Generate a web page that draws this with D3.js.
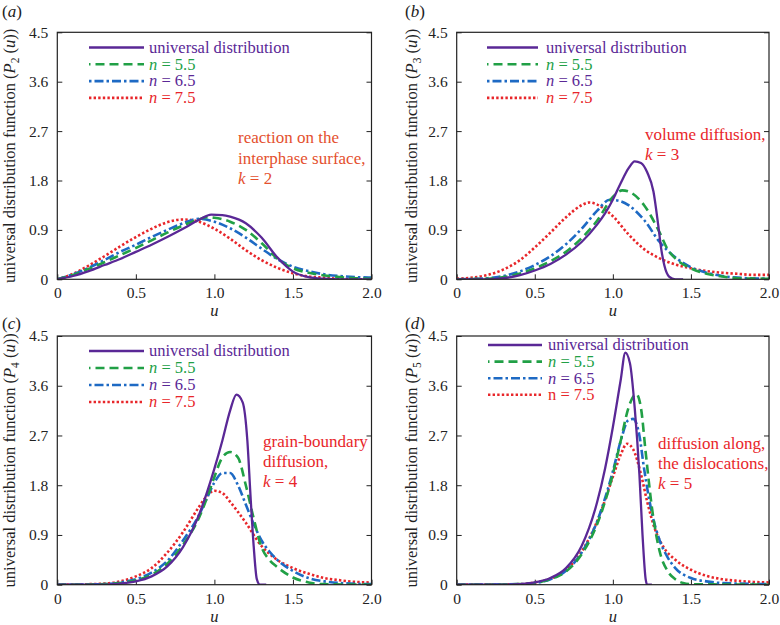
<!DOCTYPE html>
<html><head><meta charset="utf-8">
<script src="https://cdn.jsdelivr.net/npm/d3@7"></script>
<style>body{margin:0;background:#fff}svg{display:block}svg text{font-family:"Liberation Serif","DejaVu Serif","Noto Serif",serif !important}</style>
</head><body>
<svg id="c" width="780" height="625"></svg>
<script>
// ---------- data ----------
const xTicks = [0, 0.5, 1.0, 1.5, 2.0];
const xTickLabels = ["0", "0.5", "1.0", "1.5", "2.0"];
const yTicks = [0, 0.9, 1.8, 2.7, 3.6, 4.5];
const yTickLabels = ["0", "0.9", "1.8", "2.7", "3.6", "4.5"];
const seriesNames = ["universal distribution", "n = 5.5", "n = 6.5", "n = 7.5"];
const panelLetters = ["a", "b", "c", "d"];
const panelK = [2, 3, 4, 5];
const panelNotes = [
  ["reaction on the", "interphase surface,"],
  ["volume diffusion,"],
  ["grain-boundary", "diffusion,"],
  ["diffusion along,", "the dislocations,"]
];

// panel (a) k=2
const aUniversal = [[0,0],[0.1,0.06],[0.2,0.15],[0.3,0.26],[0.4,0.37],[0.5,0.5],[0.6,0.63],[0.7,0.77],[0.8,0.92],[0.9,1.08],[0.98,1.18],[1.05,1.17],[1.1,1.14],[1.2,1.02],[1.3,0.76],[1.4,0.4],[1.5,0.14],[1.6,0.04],[1.7,0.01],[1.8,0],[2.0,0]];
const aN55 = [[0,0],[0.1,0.08],[0.2,0.19],[0.3,0.31],[0.4,0.44],[0.5,0.57],[0.6,0.71],[0.7,0.85],[0.8,0.98],[0.9,1.09],[0.95,1.13],[1.0,1.12],[1.1,1.05],[1.2,0.9],[1.3,0.66],[1.4,0.38],[1.5,0.2],[1.6,0.12],[1.7,0.07],[1.8,0.04],[1.9,0.02],[2.0,0.01]];
const aN65 = [[0,0],[0.1,0.09],[0.2,0.21],[0.3,0.35],[0.4,0.5],[0.5,0.63],[0.6,0.77],[0.7,0.9],[0.8,1.02],[0.9,1.1],[1.0,1.05],[1.1,0.93],[1.2,0.76],[1.3,0.56],[1.4,0.37],[1.5,0.23],[1.6,0.15],[1.7,0.09],[1.8,0.06],[1.9,0.04],[2.0,0.03]];
const aN75 = [[0,0],[0.1,0.1],[0.2,0.25],[0.3,0.42],[0.4,0.6],[0.5,0.77],[0.6,0.92],[0.7,1.04],[0.8,1.09],[0.9,1.05],[1.0,0.92],[1.1,0.74],[1.2,0.53],[1.3,0.35],[1.4,0.21],[1.5,0.11],[1.6,0.05],[1.7,0.03],[1.8,0.01],[2.0,0]];

// panel (b) k=3
const bUniversal = [[0,0],[0.2,0],[0.3,0.02],[0.4,0.07],[0.5,0.16],[0.6,0.28],[0.7,0.45],[0.8,0.68],[0.9,1.0],[0.95,1.2],[1.0,1.45],[1.05,1.75],[1.1,2.02],[1.14,2.15],[1.18,2.12],[1.22,1.95],[1.26,1.6],[1.29,1.0],[1.31,0.55],[1.33,0.25],[1.36,0.05],[1.4,0],[1.45,0]];
const bN55 = [[0,0],[0.2,0.01],[0.3,0.04],[0.4,0.1],[0.5,0.2],[0.6,0.33],[0.7,0.5],[0.8,0.75],[0.9,1.07],[1.0,1.5],[1.06,1.62],[1.1,1.6],[1.2,1.35],[1.3,0.85],[1.35,0.55],[1.4,0.38],[1.5,0.2],[1.6,0.1],[1.7,0.05],[1.8,0.02],[2.0,0.01]];
const bN65 = [[0,0],[0.2,0.02],[0.3,0.06],[0.4,0.14],[0.5,0.26],[0.6,0.42],[0.7,0.64],[0.8,0.92],[0.9,1.25],[0.98,1.45],[1.05,1.42],[1.1,1.35],[1.2,1.08],[1.3,0.68],[1.4,0.4],[1.5,0.22],[1.6,0.12],[1.7,0.06],[1.8,0.03],[2.0,0.01]];
const bN75 = [[0,0.01],[0.1,0.03],[0.2,0.08],[0.3,0.18],[0.4,0.34],[0.5,0.58],[0.6,0.85],[0.7,1.13],[0.8,1.35],[0.85,1.4],[0.9,1.36],[1.0,1.15],[1.1,0.82],[1.2,0.55],[1.3,0.38],[1.4,0.27],[1.5,0.2],[1.6,0.15],[1.7,0.12],[1.8,0.1],[1.9,0.08],[2.0,0.08]];

// panel (c) k=4
const cUniversal = [[0,0],[0.3,0],[0.4,0.02],[0.5,0.06],[0.6,0.15],[0.7,0.33],[0.8,0.68],[0.9,1.25],[1.0,2.1],[1.05,2.6],[1.1,3.15],[1.14,3.44],[1.18,3.3],[1.21,2.6],[1.23,1.6],[1.25,0.7],[1.27,0.1],[1.29,0],[1.33,0]];
const cN55 = [[0,0],[0.3,0.01],[0.4,0.03],[0.5,0.08],[0.6,0.18],[0.7,0.38],[0.8,0.72],[0.9,1.2],[0.95,1.55],[1.0,1.95],[1.05,2.3],[1.1,2.4],[1.15,2.3],[1.2,1.8],[1.25,1.2],[1.3,0.68],[1.35,0.45],[1.4,0.32],[1.5,0.13],[1.6,0.04],[1.7,0.01],[2.0,0]];
const cN65 = [[0,0],[0.3,0.01],[0.4,0.04],[0.5,0.1],[0.6,0.22],[0.7,0.43],[0.8,0.8],[0.9,1.25],[0.95,1.55],[1.0,1.85],[1.05,2.02],[1.1,2.02],[1.15,1.8],[1.2,1.45],[1.25,1.1],[1.3,0.8],[1.35,0.6],[1.4,0.45],[1.5,0.25],[1.6,0.12],[1.7,0.06],[1.8,0.03],[2.0,0.01]];
const cN75 = [[0,0],[0.2,0.01],[0.3,0.02],[0.4,0.06],[0.5,0.15],[0.6,0.3],[0.7,0.58],[0.8,0.95],[0.9,1.4],[0.95,1.6],[1.0,1.7],[1.05,1.66],[1.1,1.5],[1.2,1.12],[1.3,0.7],[1.4,0.45],[1.5,0.3],[1.6,0.2],[1.7,0.12],[1.8,0.08],[1.9,0.05],[2.0,0.04]];

// panel (d) k=5
const dUniversal = [[0,0],[0.3,0],[0.4,0.01],[0.5,0.04],[0.6,0.12],[0.7,0.3],[0.8,0.7],[0.9,1.5],[0.95,2.1],[1.0,2.85],[1.05,3.7],[1.08,4.2],[1.11,4.0],[1.14,3.2],[1.17,2.0],[1.19,0.9],[1.21,0.1],[1.22,0],[1.25,0]];
const dN55 = [[0,0],[0.4,0.01],[0.5,0.03],[0.6,0.1],[0.7,0.24],[0.8,0.55],[0.9,1.1],[1.0,2.0],[1.05,2.6],[1.1,3.2],[1.15,3.45],[1.18,3.2],[1.21,2.4],[1.25,1.4],[1.3,0.6],[1.35,0.25],[1.4,0.1],[1.45,0.03],[1.5,0.01],[2.0,0]];
const dN65 = [[0,0],[0.4,0.01],[0.5,0.03],[0.6,0.1],[0.7,0.25],[0.8,0.58],[0.9,1.15],[1.0,2.05],[1.05,2.6],[1.1,2.98],[1.13,3.0],[1.17,2.7],[1.2,2.1],[1.25,1.3],[1.3,0.8],[1.35,0.5],[1.4,0.3],[1.5,0.12],[1.6,0.06],[1.7,0.03],[2.0,0.01]];
const dN75 = [[0,0],[0.4,0.01],[0.5,0.04],[0.6,0.11],[0.7,0.27],[0.8,0.6],[0.9,1.15],[1.0,1.95],[1.05,2.35],[1.09,2.55],[1.13,2.45],[1.18,2.0],[1.22,1.5],[1.27,1.0],[1.32,0.7],[1.4,0.45],[1.5,0.27],[1.6,0.16],[1.7,0.1],[1.8,0.07],[1.9,0.05],[2.0,0.04]];

const panelSeries = [
  [aUniversal, aN55, aN65, aN75],
  [bUniversal, bN55, bN65, bN75],
  [cUniversal, cN55, cN65, cN75],
  [dUniversal, dN55, dN65, dN75]
];

// ---------- styles / layout ----------
const FONT = '"Liberation Serif","DejaVu Serif","Noto Serif",serif';
const colors = ["#5a2896", "#21a046", "#1e6ac4", "#e8262a"];
const textColors = ["#5a2896", "#21a046", "#5a2896", "#e8262a"];
const dashes = [null, "9,5", "9,3,2.5,3", "2.4,2.2"];
const legendOffsets = [0, 7.5, 12, 0];
const widths = [2.3, 2.6, 2.6, 2.6];
const noteColors = ["#e4502e", "#e8262a", "#e8262a", "#e8262a"];

const panels = [
  {x0: 57.3, x1: 371.5, y0: 32.3, y1: 279.3, legX: 89, legX2: 144, legTextX: 149, legY: 47.5, legDy: 16.8, noteX: 238, noteY: 143, noteDy: 20.5, labX: 2, labY: 17, yLabX: 15},
  {x0: 456.7, x1: 769, y0: 32.3, y1: 279.3, legX: 487, legX2: 538, legTextX: 546, legY: 47.5, legDy: 16.8, noteX: 645, noteY: 140, noteDy: 20, labX: 405, labY: 17, yLabX: 417},
  {x0: 57.3, x1: 371.5, y0: 336, y1: 584.7, legX: 89, legX2: 144, legTextX: 149, legY: 351, legDy: 17, noteX: 263, noteY: 447, noteDy: 20, labX: 2, labY: 329, yLabX: 15},
  {x0: 456.7, x1: 769, y0: 336, y1: 584.7, legX: 488, legX2: 542, legTextX: 548, legY: 345, legDy: 16.6, noteX: 658, noteY: 449, noteDy: 20, labX: 405, labY: 329, yLabX: 417}
];

const svg = d3.select("#c").attr("font-family", FONT);

panels.forEach((p, i) => {
  const g = svg.append("g").attr("font-family", FONT);
  const x = d3.scaleLinear().domain([0, 2]).range([p.x0, p.x1]);
  const y = d3.scaleLinear().domain([0, 4.5]).range([p.y1, p.y0]);

  const clipId = "clip" + i;
  svg.append("clipPath").attr("id", clipId).append("rect")
    .attr("x", p.x0).attr("y", p.y0).attr("width", p.x1 - p.x0).attr("height", p.y1 - p.y0);

  const axB = d3.axisBottom(x).tickValues(xTicks).tickFormat((d, j) => xTickLabels[j]).tickSizeInner(-5).tickSizeOuter(0).tickPadding(8);
  const axL = d3.axisLeft(y).tickValues(yTicks).tickFormat((d, j) => yTickLabels[j]).tickSizeInner(-5).tickSizeOuter(0).tickPadding(9);
  const axR = d3.axisRight(y).tickValues(yTicks).tickFormat("").tickSizeInner(-5).tickSizeOuter(0);
  const gb = g.append("g").attr("transform", `translate(0,${p.y1})`).call(axB);
  const gl = g.append("g").attr("transform", `translate(${p.x0},0)`).call(axL);
  const gr = g.append("g").attr("transform", `translate(${p.x1},0)`).call(axR);
  [gb, gl, gr].forEach(a => {
    a.attr("font-family", FONT);
    a.select(".domain").remove();
    a.selectAll("line").attr("stroke", "#222").attr("stroke-width", 1);
    a.selectAll("text").attr("font-family", FONT).attr("font-size", 15.5).attr("fill", "#222");
  });
  gb.selectAll("text").attr("dy", "0.71em");

  const line = d3.line().x(d => x(d[0])).y(d => y(d[1])).curve(d3.curveMonotoneX);
  [3, 2, 1, 0].forEach(s => {
    g.append("path").datum(panelSeries[i][s])
      .attr("clip-path", `url(#${clipId})`)
      .attr("d", line).attr("fill", "none")
      .attr("stroke", colors[s]).attr("stroke-width", widths[s])
      .attr("stroke-dasharray", dashes[s]);
  });

  g.append("rect").attr("x", p.x0).attr("y", p.y0).attr("width", p.x1 - p.x0).attr("height", p.y1 - p.y0)
    .attr("fill", "none").attr("stroke", "#222").attr("stroke-width", 1.2);

  seriesNames.forEach((name, s) => {
    const ly = p.legY + s * p.legDy;
    g.append("line").attr("x1", p.legX).attr("x2", p.legX2).attr("y1", ly).attr("y2", ly)
      .attr("stroke", colors[s]).attr("stroke-width", widths[s]).attr("stroke-dasharray", dashes[s])
      .attr("stroke-dashoffset", legendOffsets[s]);
    const t = g.append("text").attr("x", p.legTextX).attr("y", ly + 5.3).attr("font-size", 16.5).attr("fill", textColors[s]);
    if (s === 0) {
      t.text(name);
    } else {
      const parts = name.split(" = ");
      const nStyle = (i === 3 && s === 3) ? "normal" : "italic";
      t.append("tspan").attr("font-style", nStyle).text(parts[0]);
      t.append("tspan").text(" = " + parts[1]);
    }
  });

  const lines = panelNotes[i];
  lines.forEach((ln, j) => {
    g.append("text").attr("x", p.noteX).attr("y", p.noteY + j * p.noteDy).attr("font-size", 17)
      .attr("fill", noteColors[i]).text(ln);
  });
  const kt = g.append("text").attr("x", p.noteX).attr("y", p.noteY + lines.length * p.noteDy).attr("font-size", 17).attr("fill", noteColors[i]);
  kt.append("tspan").attr("font-style", "italic").text("k");
  kt.append("tspan").text(" = " + panelK[i]);

  const lt = g.append("text").attr("x", p.labX).attr("y", p.labY).attr("font-size", 17).attr("fill", "#222");
  lt.append("tspan").text("(");
  lt.append("tspan").attr("font-style", "italic").text(panelLetters[i]);
  lt.append("tspan").text(")");

  g.append("text").attr("x", (p.x0 + p.x1) / 2).attr("y", p.y1 + 37).attr("text-anchor", "middle")
    .attr("font-size", 16.5).attr("font-style", "italic").attr("fill", "#222").text("u");

  const cy = (p.y0 + p.y1) / 2;
  const yl = g.append("text").attr("transform", `translate(${p.yLabX},${cy}) rotate(-90)`)
    .attr("text-anchor", "middle").attr("font-size", 16.5).attr("fill", "#222");
  yl.append("tspan").text("universal distribution function (");
  yl.append("tspan").attr("font-style", "italic").text("P");
  yl.append("tspan").attr("font-size", 11.5).attr("dy", 4).text(String(panelK[i]));
  yl.append("tspan").attr("dy", -4).text(" (");
  yl.append("tspan").attr("font-style", "italic").text("u");
  yl.append("tspan").text("))");
});
</script>
</body></html>
